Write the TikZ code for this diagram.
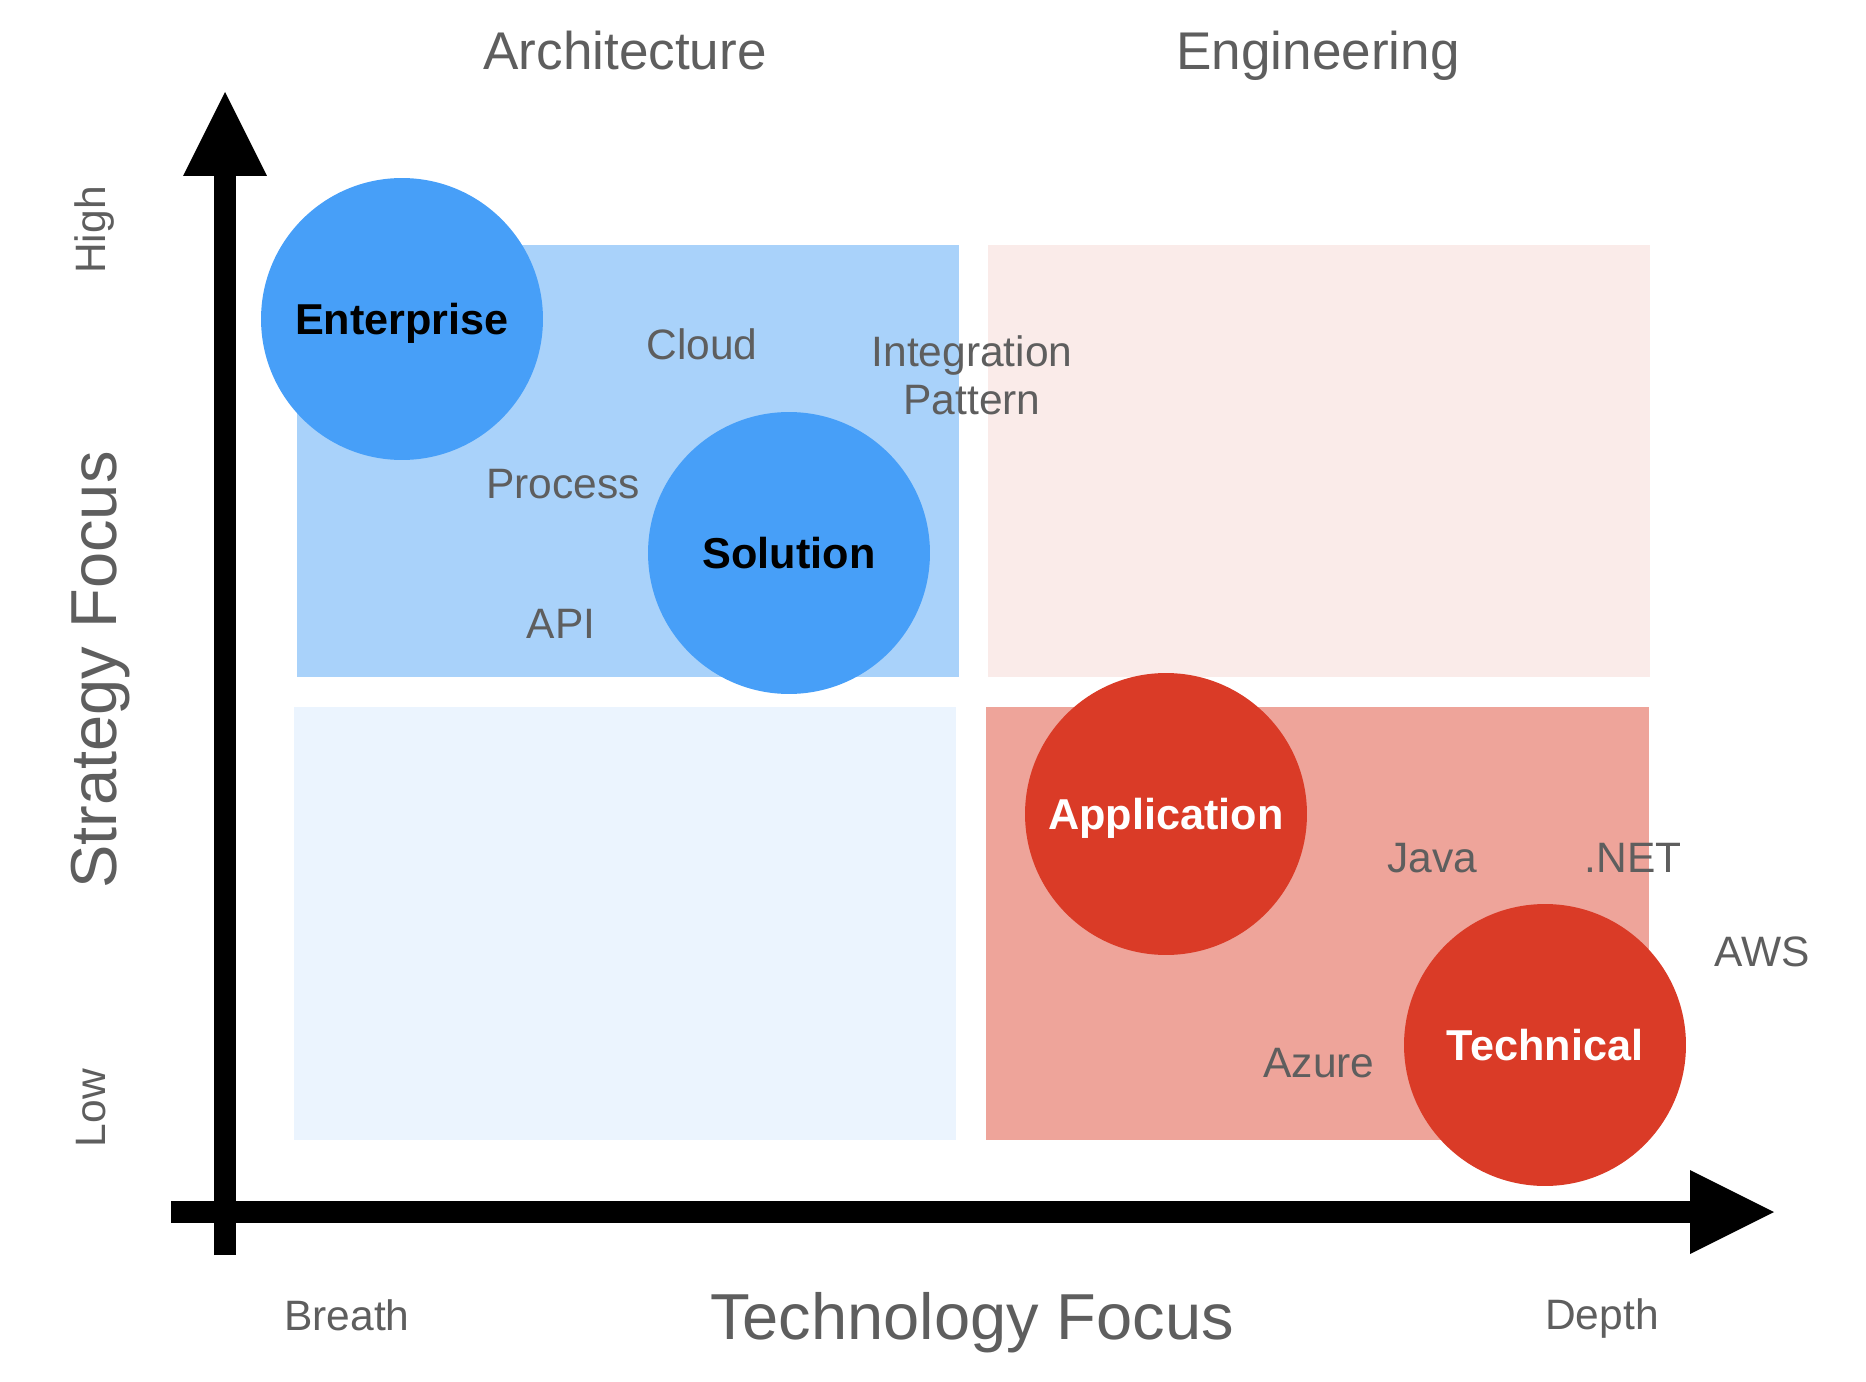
\documentclass[tikz,border=0pt]{standalone}
\usepackage{fontspec}
\setmainfont{Liberation Sans}
\usetikzlibrary{arrows.meta, positioning, shapes}

\definecolor{archblue}{HTML}{479FF8}
\definecolor{archlight}{HTML}{A9D2FA}
\definecolor{archpale}{HTML}{EBF4FE}
\definecolor{engred}{HTML}{DA3B27}
\definecolor{engsalmon}{HTML}{EEA49A}
\definecolor{engpale}{HTML}{FAEBE9}
\definecolor{labelgray}{HTML}{5E5E5E}

\tikzset{
  term/.style={text=labelgray, inner sep=0pt, font=\fontsize{24.2}{27.3}\selectfont},
  header/.style={text=labelgray, inner sep=0pt, font=\fontsize{30.2}{36}\selectfont},
  axistitle/.style={text=labelgray, inner sep=0pt, font=\fontsize{37}{44}\selectfont},
  bubble/.style={circle, minimum size=5.64cm, inner sep=0pt, text height=17.6pt, text depth=0pt,
    font=\bfseries\fontsize{24.6}{29}\selectfont},
  axis/.style={line width=0.44cm, -{Triangle[length=1.68cm, width=1.68cm, line width=0pt]}}
}

\begin{document}
\begin{tikzpicture}[x=0.02cm, y=-0.02cm]
    \useasboundingbox (0,0) rectangle (1866,1382);
    % quadrants
    \fill[archlight] (297,245) rectangle (959,677);
    \fill[engpale] (988,245) rectangle (1650,677);
    \fill[archpale] (294,707) rectangle (956,1140);
    \fill[engsalmon] (986,707) rectangle (1649,1140);
    %
    \node[bubble, fill=archblue, text=black] (enterprise) at (402,319) {Enterprise};
    \node[bubble, fill=archblue, text=black] (solution) at (789,553) {Solution};
    \node[bubble, fill=engred, text=white] (application) at (1166,814) {Application};
    \node[bubble, fill=engred, text=white] (technical) at (1545,1045) {Technical};
    %
    \foreach \x / \y / \t [count=\i] in {702/359/Cloud, 563/498/Process, 561/638/API, 1432/872/Java, 1633/872/.NET, 1762/966/AWS, 1319/1077/Azure}
    \node[term, anchor=base] (term\i) at (\x,\y) {\t};
    \node[term, align=center] (integration) at (972,375) {Integration\\Pattern};
    %
    \node[header, anchor=base] (arch) at (625,70) {Architecture};
    \node[header, anchor=base] (eng) at (1318,70) {Engineering};
    %
    \coordinate (ybottom) at (225,1255);
    \coordinate (ytop) at (225,92);
    \coordinate (xleft) at (171,1212);
    \coordinate (xright) at (1774,1212);
    \draw[axis] (ybottom) -- (ytop);
    \draw[axis] (xleft) -- (xright);
    %
    \node[term, anchor=base, rotate=90] (high) at (105,230) {High};
    \node[term, anchor=base, rotate=90] (low) at (105,1108) {Low};
    \node[axistitle, anchor=base, rotate=90] (strategy) at (116,670) {Strategy Focus};
    \node[term, anchor=base] (breath) at (347,1330) {Breath};
    \node[term, anchor=base] (depth) at (1602,1329) {Depth};
    \node[axistitle, anchor=base] (technology) at (972,1339) {Technology Focus};
\end{tikzpicture}
\end{document}
